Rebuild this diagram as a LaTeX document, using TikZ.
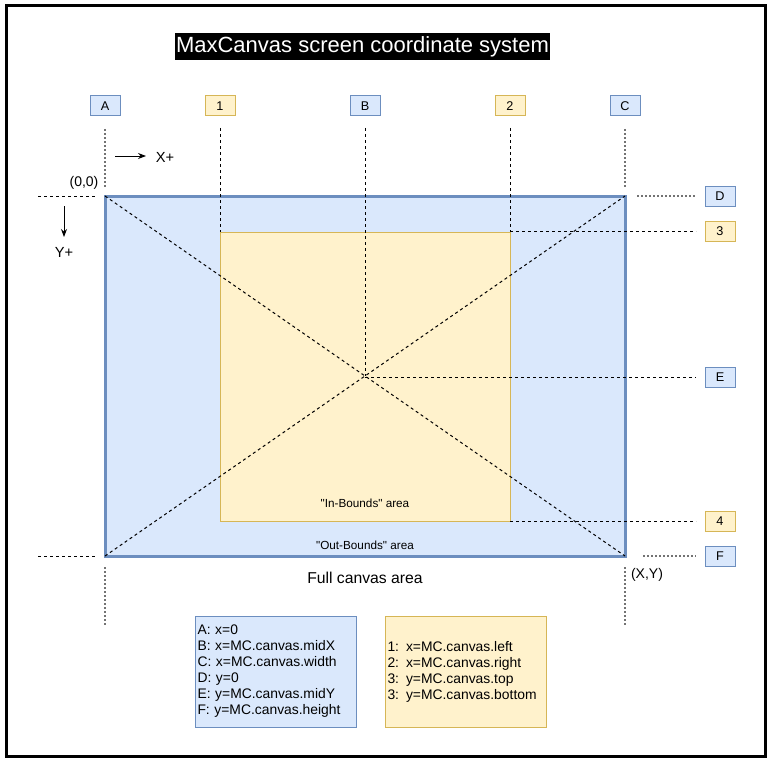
\documentclass[tikz,border=0pt]{standalone}
\usepackage{fontspec}
\setmainfont{Liberation Sans}[Ligatures=TeXOff]
\usetikzlibrary{arrows.meta}
\definecolor{bfill}{HTML}{DAE8FC}
\definecolor{bdraw}{HTML}{6C8EBF}
\definecolor{yfill}{HTML}{FFF2CC}
\definecolor{ydraw}{HTML}{D6B656}
\begin{document}
\begin{tikzpicture}[x=0.75pt,y=-0.75pt,
  tagbase/.style={minimum width=22.5pt, minimum height=15pt, inner sep=0pt, line width=0.75pt, font=\fontsize{9.5}{10}\selectfont},
  bluetag/.style={tagbase, draw=bdraw, fill=bfill},
  yellowtag/.style={tagbase, draw=ydraw, fill=yfill},
  blkdash/.style={draw=black, line width=0.75pt, dash pattern=on 2.25pt off 2.25pt},
  graydash/.style={draw=black!55, line width=1.5pt, dash pattern=on 1.5pt off 1.5pt},
  plain/.style={inner sep=0pt, font=\fontsize{#1}{#1}\selectfont},
  legend/.style={line width=0.75pt, minimum width=120.75pt, minimum height=83.25pt, text width=117pt, inner xsep=1.5pt, align=left, font=\fontsize{10.4}{12}\selectfont},
  arr/.style={line width=0.75pt, -{Stealth[length=6pt,width=4.5pt]}}
]
\useasboundingbox (0,0) rectangle (773,763);
% frame
\draw[line width=2.25pt] (6,6) rectangle (765,756);
% title
\node[fill=black, text=white, font=\fontsize{16.5}{18}\selectfont, minimum height=20.25pt, inner xsep=1pt, inner ysep=0pt] (title) at (362.5,46.5) {MaxCanvas screen coordinate system};

% areas
\coordinate (TL) at (105,196);
\coordinate (BR) at (625,556);
\coordinate (TR) at (625,196);
\coordinate (BL) at (105,556);
\coordinate (ITL) at (220,232);
\coordinate (IBR) at (510,521);
\coordinate (ITR) at (510,232);
\coordinate (CEN) at (365,376);
\draw[bdraw, fill=bfill, line width=2.25pt] (TL) rectangle (BR);
\draw[ydraw, fill=yfill, line width=0.75pt] (ITL) rectangle (IBR);

% tags
\node[bluetag] (A) at (105,106) {A};
\node[yellowtag] (T1) at (220,106) {1};
\node[bluetag] (B) at (365,106) {B};
\node[yellowtag] (T2) at (510,106) {2};
\node[bluetag] (C) at (625,106) {C};
\node[bluetag] (D) at (720,196) {D};
\node[yellowtag] (T3) at (720,231) {3};
\node[bluetag] (E) at (720,377) {E};
\node[yellowtag] (T4) at (720,521) {4};
\node[bluetag] (F) at (720,556) {F};

% guide coordinates
\coordinate (a1) at (105,129); \coordinate (a2) at (105,187);
\coordinate (a3) at (105,567); \coordinate (a4) at (105,627);
\coordinate (c1) at (625,129); \coordinate (c2) at (625,187);
\coordinate (c3) at (625,567); \coordinate (c4) at (625,627);
\coordinate (d1) at (637,196); \coordinate (d2) at (696,196);
\coordinate (d3) at (38,196); \coordinate (d4) at (97,196);
\coordinate (f1) at (643,556); \coordinate (f2) at (696,556);
\coordinate (f3) at (38,556); \coordinate (f4) at (97,556);
\coordinate (l1) at (220,128); \coordinate (lb) at (365,128); \coordinate (l2) at (510,128);
\coordinate (r3) at (696,231); \coordinate (re) at (696,377); \coordinate (r4) at (696,521);
\coordinate (p3) at (510,231); \coordinate (pe) at (365,377); \coordinate (p4) at (510,521);

\draw[graydash] (a1) -- (a2);
\draw[graydash] (a3) -- (a4);
\draw[graydash] (c1) -- (c2);
\draw[graydash] (c3) -- (c4);
\draw[graydash] (d1) -- (d2);
\draw[graydash] (f1) -- (f2);
\draw[blkdash] (d3) -- (d4);
\draw[blkdash] (f3) -- (f4);
\draw[blkdash] (l1) -- (ITL);
\draw[blkdash] (lb) -- (CEN);
\draw[blkdash] (l2) -- (ITR);
\draw[blkdash] (p3) -- (r3);
\draw[blkdash] (pe) -- (re);
\draw[blkdash] (p4) -- (r4);
\draw[blkdash] (TL) -- (BR);
\draw[blkdash] (BL) -- (TR);

% axes
\coordinate (xa) at (115,156); \coordinate (xb) at (146,156);
\coordinate (ya) at (64,206); \coordinate (yb) at (64,237);
\draw[arr] (xa) -- (xb);
\draw[arr] (ya) -- (yb);
\node[plain=11] (xp) at (165,157) {X+};
\node[plain=11] (yp) at (64,252) {Y+};
\node[plain=10.5] (orig) at (84,183) {(0,0)};
\node[plain=10.5] (xy) at (647,575) {(X,Y)};

% area labels
\node[plain=8.8] (inb) at (365,503) {"In-Bounds" area};
\node[plain=8.8] (outb) at (365,545) {"Out-Bounds" area};
\node[plain=11.8] (full) at (365,578) {Full canvas area};

% legends
\node[legend, draw=bdraw, fill=bfill] (legA) at (275.5,671.5) {A: x=0\\B: x=MC.canvas.midX\\C: x=MC.canvas.width\\D: y=0\\E: y=MC.canvas.midY\\F: y=MC.canvas.height};
\node[legend, draw=ydraw, fill=yfill] (legB) at (465.5,671.5) {1: x=MC.canvas.left\\2: x=MC.canvas.right\\3: y=MC.canvas.top\\3: y=MC.canvas.bottom};
\end{tikzpicture}
\end{document}
